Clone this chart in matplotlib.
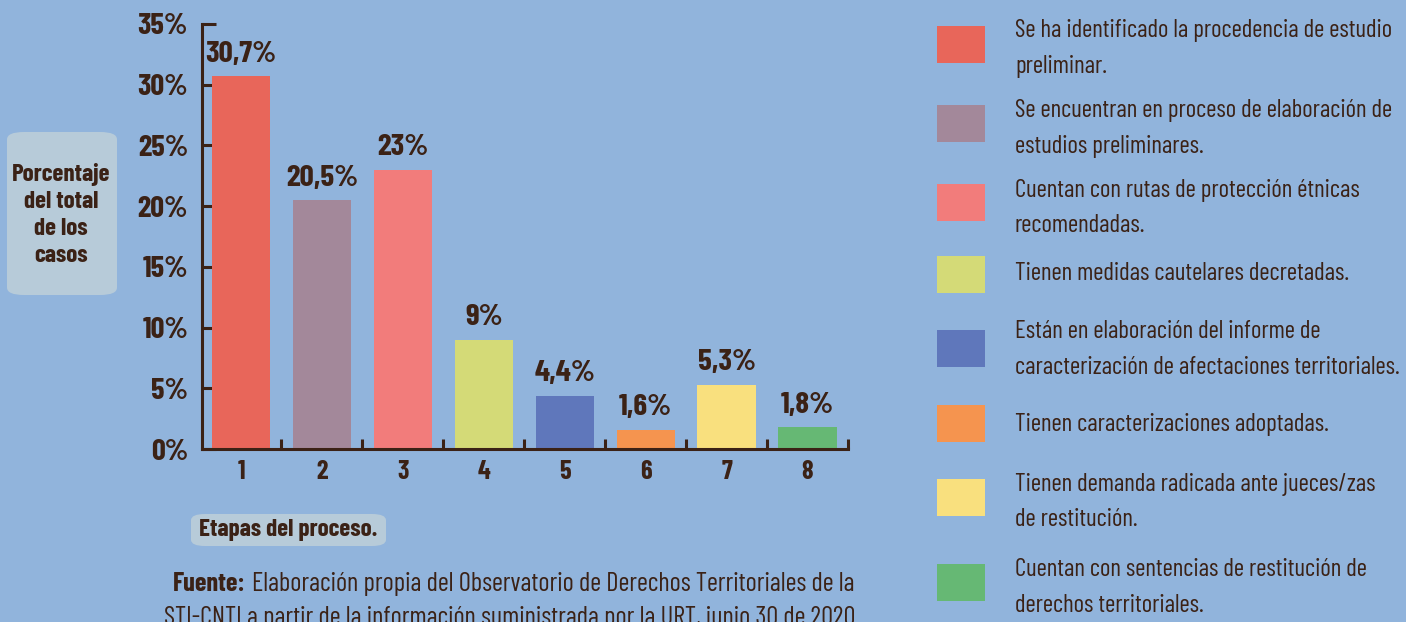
import matplotlib
matplotlib.use("Agg")
import matplotlib.pyplot as plt
from matplotlib.patches import FancyBboxPatch, Rectangle

# ---- data ----
stages = [1, 2, 3, 4, 5, 6, 7, 8]
values = [30.7, 20.5, 23.0, 9.0, 4.4, 1.6, 5.3, 1.8]
value_labels = ["30,7%", "20,5%", "23%", "9%", "4,4%", "1,6%", "5,3%", "1,8%"]
colors = ["#e8665a", "#a3889a", "#f27c7b", "#d4da77",
          "#5f77bb", "#f5944f", "#f9e07e", "#66b874"]
legend_lines = [
    ["Se ha identificado la procedencia de estudio", "preliminar."],
    ["Se encuentran en proceso de elaboración de", "estudios preliminares."],
    ["Cuentan con rutas de protección étnicas", "recomendadas."],
    ["Tienen medidas cautelares decretadas."],
    ["Están en elaboración del informe de", "caracterización de afectaciones territoriales."],
    ["Tienen caracterizaciones adoptadas."],
    ["Tienen demanda radicada ante jueces/zas", "de restitución."],
    ["Cuentan con sentencias de restitución de", "derechos territoriales."],
]
yticks = [0, 5, 10, 15, 20, 25, 30, 35]

BG = "#91b4dc"
INK = "#3b2216"
plt.rcParams["font.family"] = ["Barlow Condensed", "Roboto Condensed", "DejaVu Sans"]

W, H = 1406, 622
fig = plt.figure(figsize=(W / 100, H / 100), dpi=100, facecolor=BG)


def fx(px):
    return px / W


def fy(py):
    return 1 - py / H


# ---- bar chart ----
ax = fig.add_axes([fx(202), fy(449), fx(848) - fx(202), fy(24) - fy(449)])
ax.set_facecolor("none")
ax.bar(stages, values, width=0.72, color=colors, zorder=2)
ax.set_xlim(0.518, 8.5)
ax.set_ylim(0, 35)
for s in ["top", "right"]:
    ax.spines[s].set_visible(False)
for s in ["left", "bottom"]:
    ax.spines[s].set_color(INK)
    ax.spines[s].set_linewidth(2.2)

ax.set_yticks(yticks)
ax.set_yticklabels([f"{t}%" for t in yticks])
ax.tick_params(axis="y", direction="in", length=10, width=2.2, color=INK,
               labelsize=22, labelcolor=INK, pad=10)
ax.set_xticks([s + 0.5 for s in stages])
ax.set_xticklabels([])
ax.set_xticks(stages, minor=True)
ax.set_xticklabels([str(s) for s in stages], minor=True)
ax.tick_params(axis="x", which="major", direction="in", length=7, width=2.2, color=INK)
ax.tick_params(axis="x", which="minor", length=0, labelsize=19, labelcolor=INK, pad=8)
for lbl in ax.get_yticklabels() + ax.get_xticklabels(minor=True):
    lbl.set_fontweight("bold")

for s, v, t in zip(stages, values, value_labels):
    ax.annotate(t, (s, v), xytext=(0, 6), textcoords="offset points",
                ha="center", va="bottom", fontsize=22.5, fontweight="bold", color=INK)

# ---- y-axis caption box ----
fig.patches.append(FancyBboxPatch((fx(7), fy(295)), fx(110), fy(132) - fy(295),
                                  boxstyle="round,pad=0,rounding_size=0.012",
                                  transform=fig.transFigure, facecolor="#b7cbd9",
                                  edgecolor="none", zorder=0))
fig.text(fx(61), fy(215), "Porcentaje\ndel total\nde los\ncasos", ha="center", va="center",
         fontsize=18, fontweight="bold", color=INK, linespacing=1.3)

# ---- x-axis caption box ----
fig.patches.append(FancyBboxPatch((fx(191), fy(546)), fx(195), fy(514) - fy(546),
                                  boxstyle="round,pad=0,rounding_size=0.01",
                                  transform=fig.transFigure, facecolor="#b7cbd9",
                                  edgecolor="none", zorder=0))
fig.text(fx(288), fy(530), "Etapas del proceso.", ha="center", va="center",
         fontsize=18, fontweight="bold", color=INK)

# ---- source ----
renderer = fig.canvas.get_renderer()
src_bold = fig.text(fx(173), fy(584), "Fuente:", ha="left", va="center",
                    fontsize=19, fontweight="bold", color=INK)
bb = src_bold.get_window_extent(renderer)
fig.text(fx(bb.x1 + 6), fy(584),
         "Elaboración propia del Observatorio de Derechos Territoriales de la",
         ha="left", va="center", fontsize=19, color=INK)
fig.text(fx(512), fy(618),
         "STI-CNTI a partir de la información suministrada por la URT, junio 30 de 2020.",
         ha="center", va="center", fontsize=19, color=INK)

# ---- legend ----
square_tops = [26, 105, 184, 256, 330, 405, 479, 564]
line_y = [[31, 67], [111, 147], [190, 226], [274], [332, 368], [425], [484, 520], [569, 605]]
for c, top, lines, ys in zip(colors, square_tops, legend_lines, line_y):
    fig.patches.append(Rectangle((fx(937), fy(top + 37)), fx(48), fy(top) - fy(top + 37),
                                 transform=fig.transFigure, facecolor=c, edgecolor="none"))
    for txt, y in zip(lines, ys):
        fig.text(fx(1015), fy(y), txt, ha="left", va="center", fontsize=18, color=INK)

fig.savefig("out.png", dpi=100, facecolor=BG)
